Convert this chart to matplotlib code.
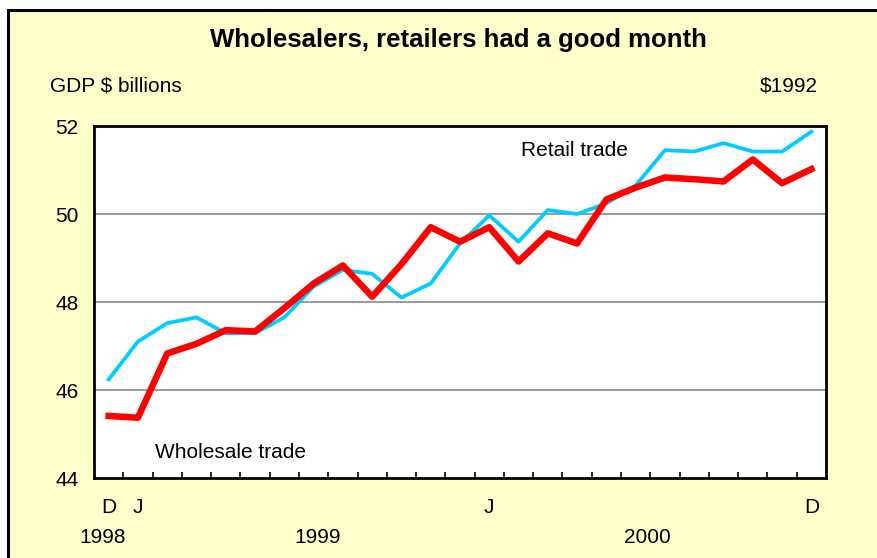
import matplotlib
matplotlib.use("Agg")
import matplotlib.pyplot as plt
from matplotlib.patches import Rectangle

plt.rcParams['font.family'] = ['Liberation Sans', 'DejaVu Sans']

# monthly, Dec 1998 .. Dec 2000 ($1992 billions)
months = ['D', 'J', 'F', 'M', 'A', 'M', 'J', 'J', 'A', 'S', 'O', 'N', 'D',
          'J', 'F', 'M', 'A', 'M', 'J', 'J', 'A', 'S', 'O', 'N', 'D']
retail = [46.24, 47.10, 47.52, 47.65, 47.29, 47.29, 47.65, 48.35, 48.73, 48.64,
          48.10, 48.42, 49.33, 49.97, 49.37, 50.09, 50.00, 50.24, 50.65, 51.45,
          51.42, 51.61, 51.42, 51.42, 51.87]
wholesale = [45.41, 45.37, 46.83, 47.05, 47.36, 47.33, 47.86, 48.42, 48.83, 48.12,
             48.86, 49.70, 49.37, 49.70, 48.92, 49.56, 49.33, 50.33, 50.60, 50.83,
             50.79, 50.74, 51.24, 50.70, 51.02]
month_labels = {0: 'D', 1: 'J', 13: 'J', 24: 'D'}
year_labels = {-0.2: '1998', 7.15: '1999', 18.4: '2000'}
yticks = [44, 46, 48, 50, 52]

bg = '#FFFFCC'
fs = 15
fig = plt.figure(figsize=(8.78, 5.58), dpi=100, facecolor='white')
fig.patches.append(Rectangle((8 / 878, -0.05), 1.1, 1 - 10 / 558 + 0.05,
                             transform=fig.transFigure, facecolor=bg,
                             edgecolor='black', linewidth=2.2, zorder=-10))

ax = fig.add_axes([94 / 878, 1 - 478 / 558, 732 / 878, 352 / 558])
ax.set_facecolor('white')
x = list(range(len(months)))

for g in [46, 48, 50]:
    ax.axhline(g, color='#999999', linewidth=1.4, zorder=1)

ax.plot(x, retail, color='#00CCFF', linewidth=2.7, zorder=3)
ax.plot(x, wholesale, color='#FF0000', linewidth=4.7, zorder=4)

ax.set_xlim(-0.5, 24.5)
ax.set_ylim(44, 52)
ax.set_yticks(yticks)
ax.set_yticklabels([str(v) for v in yticks], fontsize=fs)
ax.tick_params(axis='y', length=0, pad=11)
ax.set_xticks([i + 0.5 for i in range(24)])
ax.set_xticklabels([])
ax.tick_params(axis='x', direction='in', length=4, width=1.2, color='black')
for s in ax.spines.values():
    s.set_linewidth(2)
    s.set_color('black')

tr = ax.get_xaxis_transform()
for i, lab in month_labels.items():
    ax.text(i, -0.085, lab, transform=tr, ha='center', va='center', fontsize=fs)
for i, lab in year_labels.items():
    ax.text(i, -0.17, lab, transform=tr, ha='center', va='center', fontsize=fs)

ax.text(14.08, 51.45, 'Retail trade', ha='left', va='center', fontsize=fs)
ax.text(1.58, 44.59, 'Wholesale trade', ha='left', va='center', fontsize=fs)

fig.text(458 / 878, 1 - 40 / 558, 'Wholesalers, retailers had a good month',
         ha='center', va='center', fontsize=18.5, fontweight='bold')
fig.text(50 / 878, 1 - 86 / 558, 'GDP $ billions', ha='left', va='center', fontsize=fs)
fig.text(818 / 878, 1 - 86 / 558, '$1992', ha='right', va='center', fontsize=fs)

fig.savefig('out.png', dpi=100, facecolor=fig.get_facecolor())
